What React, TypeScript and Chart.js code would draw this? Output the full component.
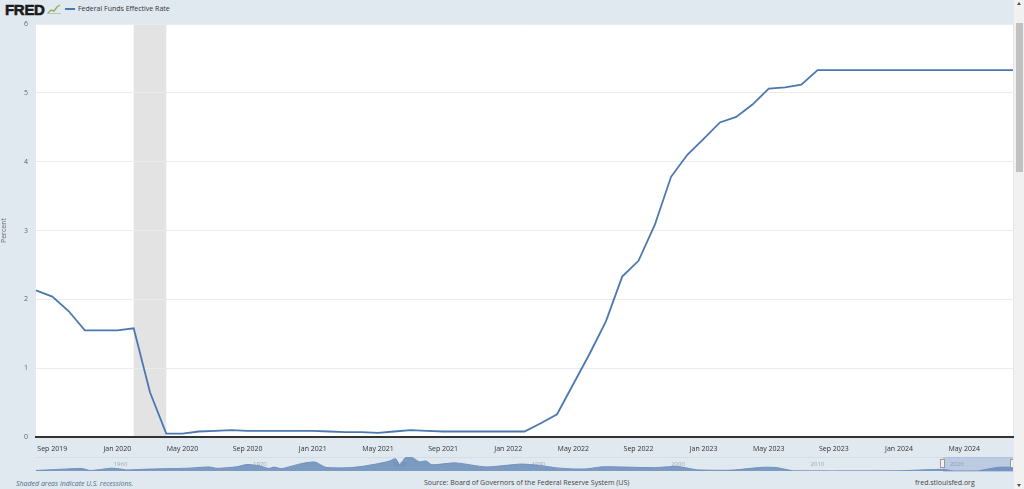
import React, { useEffect, useRef } from "react";
import { Chart, registerables } from "chart.js";

Chart.register(...registerables);

// ---- Data ----
const months: string[] = [
  "2019-08","2019-09","2019-10","2019-11","2019-12",
  "2020-01","2020-02","2020-03","2020-04","2020-05","2020-06","2020-07","2020-08","2020-09","2020-10","2020-11","2020-12",
  "2021-01","2021-02","2021-03","2021-04","2021-05","2021-06","2021-07","2021-08","2021-09","2021-10","2021-11","2021-12",
  "2022-01","2022-02","2022-03","2022-04","2022-05","2022-06","2022-07","2022-08","2022-09","2022-10","2022-11","2022-12",
  "2023-01","2023-02","2023-03","2023-04","2023-05","2023-06","2023-07","2023-08","2023-09","2023-10","2023-11","2023-12",
  "2024-01","2024-02","2024-03","2024-04","2024-05","2024-06","2024-07","2024-08",
];

const fedFunds: number[] = [
  2.13, 2.04, 1.83, 1.55, 1.55,
  1.55, 1.58, 0.65, 0.05, 0.05, 0.08, 0.09, 0.10, 0.09, 0.09, 0.09, 0.09,
  0.09, 0.08, 0.07, 0.07, 0.06, 0.08, 0.10, 0.09, 0.08, 0.08, 0.08, 0.08,
  0.08, 0.08, 0.20, 0.33, 0.77, 1.21, 1.68, 2.33, 2.56, 3.08, 3.78, 4.10,
  4.33, 4.57, 4.65, 4.83, 5.06, 5.08, 5.12, 5.33, 5.33, 5.33, 5.33, 5.33,
  5.33, 5.33, 5.33, 5.33, 5.33, 5.33, 5.33, 5.33,
];

const tickMonths: string[] = [
  "2019-09","2020-01","2020-05","2020-09","2021-01","2021-05","2021-09",
  "2022-01","2022-05","2022-09","2023-01","2023-05","2023-09","2024-01","2024-05",
];
const tickLabels: string[] = [
  "Sep 2019","Jan 2020","May 2020","Sep 2020","Jan 2021","May 2021","Sep 2021",
  "Jan 2022","May 2022","Sep 2022","Jan 2023","May 2023","Sep 2023","Jan 2024","May 2024",
];

const recessionStart = "2020-02";
const recessionEnd = "2020-04";

const yTicks: number[] = [0, 1, 2, 3, 4, 5, 6];

// Navigator (full history, coarse)
const navX: number[] = [
  1954.5, 1955.5, 1956.8, 1957.8, 1958.4, 1959.9, 1960.5, 1961.0, 1962.5, 1963.5, 1964.5, 1965.5,
  1966.9, 1967.5, 1968.9, 1969.6, 1970.5, 1971.2, 1971.6, 1972.1, 1973.6, 1974.5, 1975.3, 1976.9,
  1977.9, 1978.9, 1979.8, 1980.3, 1980.6, 1981.0, 1981.5, 1982.0, 1982.5, 1982.9, 1984.6, 1986.8,
  1989.3, 1990.5, 1991.9, 1993.0, 1994.0, 1995.2, 1998.8, 2000.5, 2001.9, 2003.5, 2004.5, 2006.6,
  2007.6, 2008.9, 2015.9, 2017.0, 2019.5, 2019.9, 2020.3, 2022.1, 2022.5, 2023.6, 2024.6,
];
const navY: number[] = [
  0.8, 1.7, 3.0, 3.5, 0.7, 4.0, 3.0, 1.5, 2.7, 3.2, 3.5, 4.1,
  5.8, 3.8, 6.0, 9.2, 7.6, 3.7, 5.6, 3.3, 10.8, 12.9, 5.2, 4.6,
  6.6, 10.0, 13.8, 17.6, 9.0, 19.1, 19.1, 13.2, 14.2, 8.9, 11.6, 5.8,
  9.9, 8.2, 4.4, 3.0, 3.0, 6.0, 4.8, 6.5, 1.8, 1.0, 1.3, 5.25,
  5.0, 0.2, 0.2, 0.7, 2.4, 1.55, 0.05, 0.08, 1.7, 5.33, 5.33,
];
const navYears: number[] = [1960, 1970, 1980, 1990, 2000, 2010, 2020];
const navSelStart = 2019.58;
const navSelEnd = 2024.6;

const FONT = "'Open Sans', 'DejaVu Sans', sans-serif";

export default function App() {
  const mainRef = useRef<HTMLCanvasElement | null>(null);
  const navRef = useRef<HTMLCanvasElement | null>(null);

  useEffect(() => {
    const bgPlugin = {
      id: "bgRecession",
      beforeDraw(chart: any) {
        const { ctx, chartArea, scales } = chart;
        ctx.save();
        ctx.fillStyle = "#ffffff";
        ctx.fillRect(chartArea.left, chartArea.top, chartArea.right - chartArea.left, chartArea.bottom - chartArea.top);
        const x0 = scales.x.getPixelForValue(months.indexOf(recessionStart));
        const x1 = scales.x.getPixelForValue(months.indexOf(recessionEnd));
        ctx.fillStyle = "#e3e3e3";
        ctx.fillRect(x0, chartArea.top, x1 - x0, chartArea.bottom - chartArea.top);
        ctx.restore();
      },
    };

    const main = new Chart(mainRef.current as HTMLCanvasElement, {
      type: "line",
      data: {
        labels: months,
        datasets: [
          {
            label: "Federal Funds Effective Rate",
            data: fedFunds,
            borderColor: "#4a78b0",
            borderWidth: 1.8,
            pointRadius: 0,
            pointHoverRadius: 0,
            tension: 0,
            fill: false,
          },
        ],
      },
      options: {
        animation: false,
        responsive: false,
        maintainAspectRatio: false,
        layout: { autoPadding: false, padding: { top: 24, right: 1, left: 0, bottom: 0 } },
        plugins: { legend: { display: false }, tooltip: { enabled: false } },
        scales: {
          x: {
            type: "category",
            offset: false,
            grid: { display: false, drawTicks: false },
            border: { display: true, color: "#333333", width: 2 },
            ticks: {
              autoSkip: false,
              maxRotation: 0,
              padding: 8,
              color: "#333333",
              font: { family: FONT, size: 7 },
              callback: (_v: any, i: number) => {
                const k = tickMonths.indexOf(months[i]);
                return k >= 0 ? tickLabels[k] : "";
              },
            },
            afterFit: (s: any) => {
              s.height = 18;
              s.paddingLeft = 0;
              s.paddingRight = 0;
            },
          },
          y: {
            min: 0,
            max: 6,
            afterBuildTicks: (s: any) => {
              s.ticks = yTicks.map((v) => ({ value: v }));
            },
            grid: { color: "#ebebeb", lineWidth: 1, drawTicks: false },
            border: { display: false },
            ticks: {
              padding: 8,
              color: "#666666",
              font: { family: FONT, size: 7 },
            },
            title: {
              display: true,
              text: "Percent",
              color: "#666666",
              font: { family: FONT, size: 7 },
              padding: { top: 0, bottom: 0 },
            },
            afterFit: (s: any) => {
              s.width = 36;
              s.paddingTop = 0;
              s.paddingBottom = 0;
            },
          },
        },
      },
      plugins: [bgPlugin],
    } as any);

    const navPlugin = {
      id: "navExtras",
      beforeDatasetsDraw(chart: any) {
        const { ctx, chartArea, scales } = chart;
        ctx.save();
        ctx.strokeStyle = "#d3dce8";
        ctx.lineWidth = 1;
        ctx.beginPath();
        ctx.moveTo(chartArea.left, 3.5);
        ctx.lineTo(chartArea.right, 3.5);
        ctx.stroke();
        ctx.fillStyle = "#a0a8b0";
        ctx.font = `6px ${FONT}`;
        ctx.textBaseline = "middle";
        ctx.textAlign = "left";
        navYears.forEach((y) => {
          ctx.fillText(String(y), scales.x.getPixelForValue(y) + 1, 10);
        });
        ctx.restore();
      },
      afterDatasetsDraw(chart: any) {
        const { ctx, scales } = chart;
        const a = scales.x.getPixelForValue(navSelStart);
        const b = scales.x.getPixelForValue(navSelEnd);
        ctx.save();
        ctx.fillStyle = "rgba(102,133,194,0.3)";
        ctx.fillRect(a, 3, b - a, 15);
        [a, b].forEach((x) => {
          ctx.fillStyle = "#f2f2f2";
          ctx.strokeStyle = "#999999";
          ctx.lineWidth = 1;
          ctx.fillRect(Math.round(x) - 2.5, 5.5, 4, 8);
          ctx.strokeRect(Math.round(x) - 2.5, 5.5, 4, 8);
        });
        ctx.restore();
      },
    };

    const nav = new Chart(navRef.current as HTMLCanvasElement, {
      type: "line",
      data: {
        datasets: [
          {
            data: navX.map((x, i) => ({ x, y: navY[i] })),
            borderColor: "#6f8fbd",
            borderWidth: 1,
            backgroundColor: "rgba(69,114,167,0.65)",
            fill: "origin",
            pointRadius: 0,
            tension: 0.2,
          },
        ],
      },
      options: {
        animation: false,
        responsive: false,
        maintainAspectRatio: false,
        layout: { autoPadding: false, padding: { top: 3, bottom: 1, left: 0, right: 0 } },
        plugins: { legend: { display: false }, tooltip: { enabled: false } },
        scales: {
          x: { type: "linear", min: 1954.5, max: 2024.6, display: false },
          y: { min: 0, max: 20, display: false },
        },
      },
      plugins: [navPlugin],
    } as any);

    return () => {
      main.destroy();
      nav.destroy();
    };
  }, []);

  const txt: React.CSSProperties = {
    position: "absolute",
    fontFamily: FONT,
    fontSize: 7,
    whiteSpace: "nowrap",
    lineHeight: "10px",
  };

  return (
    <div
      style={{
        position: "absolute",
        left: 0,
        top: 0,
        width: 1024,
        height: 489,
        background: "#e1e9f0",
        overflow: "hidden",
      }}
    >
      {/* Header */}
      <div
        style={{
          position: "absolute",
          left: 5,
          top: 1,
          fontFamily: "'Liberation Sans', Arial, sans-serif",
          fontWeight: 900,
          fontSize: 15,
          letterSpacing: -0.3,
          color: "#1b1b1b",
          lineHeight: "17px",
          WebkitTextStroke: "0.6px #1b1b1b",
        }}
      >
        FRED
      </div>
      <svg style={{ position: "absolute", left: 47, top: 4 }} width={14} height={10}>
        <polyline points="1,9 4,6 7,7 10,3 13,1" fill="none" stroke="#8fb06a" strokeWidth={1.5} />
        <line x1={0} y1={9.5} x2={14} y2={9.5} stroke="#b9c7a8" strokeWidth={1} />
      </svg>
      <div style={{ position: "absolute", left: 65, top: 8, width: 10, height: 2, background: "#4a78b0" }} />
      <div style={{ ...txt, left: 78, top: 4, color: "#333" }}>Federal Funds Effective Rate</div>

      {/* Main chart */}
      <canvas
        ref={mainRef}
        width={1014}
        height={455}
        style={{ position: "absolute", left: 0, top: 0, width: 1014, height: 455 }}
      />

      {/* Navigator */}
      <canvas
        ref={navRef}
        width={977}
        height={18}
        style={{ position: "absolute", left: 36, top: 454, width: 977, height: 18 }}
      />

      {/* Footer */}
      <div style={{ ...txt, left: 16, top: 479, color: "#4f6d8f", fontStyle: "italic" }}>
        Shaded areas indicate U.S. recessions.
      </div>
      <div style={{ ...txt, left: 424, top: 478, color: "#444" }}>
        Source: Board of Governors of the Federal Reserve System (US)
      </div>
      <div style={{ ...txt, left: 915, top: 478, color: "#444" }}>fred.stlouisfed.org</div>

      {/* Scrollbar */}
      <div style={{ position: "absolute", left: 1014, top: 0, width: 10, height: 489, background: "#f1f1f1" }} />
      <div style={{ position: "absolute", left: 1016, top: 23, width: 7, height: 149, background: "#c1c1c1" }} />
      <div
        style={{
          position: "absolute",
          left: 1017,
          top: 2,
          width: 0,
          height: 0,
          borderLeft: "2.5px solid transparent",
          borderRight: "2.5px solid transparent",
          borderBottom: "3px solid #505050",
        }}
      />
      <div
        style={{
          position: "absolute",
          left: 1017,
          top: 484,
          width: 0,
          height: 0,
          borderLeft: "2.5px solid transparent",
          borderRight: "2.5px solid transparent",
          borderTop: "3px solid #505050",
        }}
      />
    </div>
  );
}
